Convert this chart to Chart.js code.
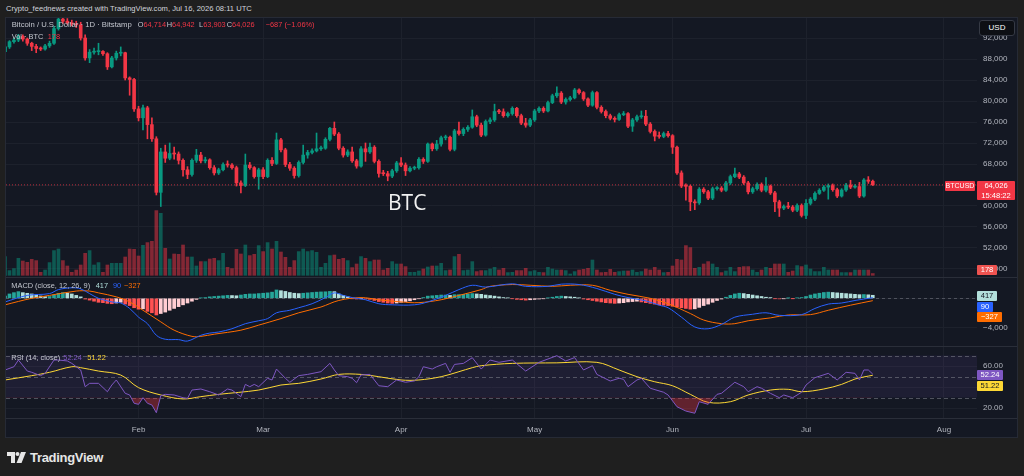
<!DOCTYPE html>
<html>
<head>
<meta charset="utf-8">
<title>BTCUSD 1D</title>
<script src="https://cdn.jsdelivr.net/npm/chart.js@4.4.1/dist/chart.umd.min.js"></script>
<style>
  body { margin:0; width:1024px; height:476px; background:#1f1f1f; position:relative; overflow:hidden;
         font-family:"Liberation Sans", Arial, sans-serif; color:#c3c6ce; }
  .a { position:absolute; white-space:nowrap; z-index:3; }
  #panel { position:absolute; left:5px; top:17px; width:1013px; height:421px; background:#141823;
           border:1px solid #262a35; box-sizing:border-box; }
  canvas { position:absolute; left:6px; z-index:1; }
  .sep { position:absolute; left:6px; width:1011px; height:1px; background:#2a2e39; z-index:2; }
  .leg { font-size:7.4px; line-height:10px; }
  .tag { position:absolute; z-index:3; font-size:7.6px; color:#fff; text-align:center; line-height:10px; border-radius:1px; }
  .red { color:#f23645; }
</style>
</head>
<body>
<div class="a" style="left:6px;top:4px;font-size:7.6px;color:#d1d4dc;">Crypto_feednews created with TradingView.com, Jul 16, 2026 08:11 UTC</div>
<div id="panel"></div>

<canvas id="main" width="1011" height="259" style="top:18px"></canvas>
<canvas id="macd" width="1011" height="68" style="top:278px"></canvas>
<canvas id="rsi" width="1011" height="90" style="top:347px"></canvas>
<div class="sep" style="top:277px"></div>
<div class="sep" style="top:346px"></div>
<div class="sep" style="top:418px"></div>

<!-- legends -->
<div class="a leg" style="left:11.7px;top:20px;font-size:7.7px;">Bitcoin / U.S. Dollar · 1D · Bitstamp</div>
<div class="a leg" style="left:137.7px;top:20px;">O<span class="red">64,714</span></div>
<div class="a leg" style="left:166.7px;top:20px;">H<span class="red">64,942</span></div>
<div class="a leg" style="left:199px;top:20px;">L<span class="red">63,903</span></div>
<div class="a leg" style="left:226.7px;top:20px;">C<span class="red">64,026</span></div>
<div class="a leg red" style="left:265.7px;top:20px;">−687 (−1.06%)</div>
<div class="a leg" style="left:11.7px;top:32px;">Vol · BTC</div>
<div class="a leg red" style="left:47.7px;top:32px;">178</div>

<div class="a leg" style="left:11.3px;top:280.5px;">MACD (close, 12, 26, 9)</div>
<div class="a leg" style="left:95.7px;top:280.5px;color:#b2dfdb;">417</div>
<div class="a leg" style="left:113px;top:280.5px;color:#2962ff;">90</div>
<div class="a leg" style="left:124px;top:280.5px;color:#ff6d00;">−327</div>

<div class="a leg" style="left:11.3px;top:352.5px;">RSI (14, close)</div>
<div class="a leg" style="left:63.3px;top:352.5px;color:#7e57c2;">52.24</div>
<div class="a leg" style="left:87.3px;top:352.5px;color:#fdd835;">51.22</div>

<div class="a" style="left:388px;top:188px;font:21px 'Open Sans', sans-serif;color:#f2f2f2;">BTC</div>

<!-- price scale tags -->
<div class="tag" style="left:979px;top:20px;width:34px;height:14px;line-height:14px;background:#0d0f14;border:1px solid #363a45;border-radius:3px;font-size:8px;">USD</div>
<div class="tag" style="left:945px;top:181px;width:30px;height:10px;background:#f23645;font-size:7px;">BTCUSD</div>
<div class="tag" style="left:977px;top:181px;width:38px;height:19px;background:#f23645;line-height:9.5px;">64,026<br>15:48:22</div>
<div class="tag" style="left:977px;top:265px;width:20px;height:10px;background:#ef5350;">178</div>
<div class="tag" style="left:977px;top:291px;width:20px;height:10px;background:#b2dfdb;color:#131722;">417</div>
<div class="tag" style="left:977px;top:302px;width:16px;height:10px;background:#2962ff;">90</div>
<div class="tag" style="left:977px;top:312px;width:25px;height:10px;background:#ff6d00;">−327</div>
<div class="tag" style="left:977px;top:370px;width:26px;height:10px;background:#7e57c2;">52.24</div>
<div class="tag" style="left:977px;top:381px;width:26px;height:10px;background:#fdd835;color:#131722;">51.22</div>

<!-- footer logo -->
<svg class="a" style="left:7px;top:452px;" width="19" height="11" viewBox="0 0 19 11">
  <path d="M0 0H8V11H4V4H0Z" fill="#e6e6e6"/>
  <circle cx="10.5" cy="2" r="2" fill="#e6e6e6"/>
  <path d="M14 0H19L14.5 11H9.5Z" fill="#e6e6e6"/>
</svg>
<div class="a" style="left:30px;top:450px;font-size:13px;font-weight:bold;color:#e6e6e6;letter-spacing:-0.3px;">TradingView</div>

<script>
// ---- data: daily candles Jan 2 .. Jul 16 2026 (day index: Jan 1 = 0) ----
const firstDay = 1;
const opens = [
  89400,90300,91300,91600,92300,91800,91000,90400,90000,89900,
  90500,91000,93800,95600,95200,94900,94700,94500,92000,88200,
  89300,89400,89450,89000,86500,88200,89100,89200,84400,84100,
  78500,76800,78700,75500,72800,62600,70300,69100,70000,69900,
  68700,66900,66000,68700,69700,68600,68800,67300,66300,66900,
  67900,67800,67300,64400,63900,67800,67300,65600,66900,65600,
  68700,68100,72600,70700,67900,67200,65800,68300,69700,70200,
  70500,70900,71000,72700,74800,73700,71000,69700,70300,68600,
  67600,70900,70300,71200,68500,66200,66150,65700,66700,68200,
  67800,66700,67200,67300,68900,68500,71800,70900,71800,73000,
  73100,70800,74300,73800,74600,75000,77000,75400,73500,76100,
  76400,78000,77950,77200,77600,78600,77200,75800,75400,76400,
  78100,78600,78100,79700,81000,81500,79800,80300,80600,82100,
  81600,80400,79200,81600,78800,78000,77200,76700,76500,77400,
  77600,75200,76400,77000,77100,75600,74200,73300,73250,73800,
  73400,71200,66300,63800,63750,60800,60600,63200,62700,61500,
  63300,63400,63000,64400,65600,66100,65500,64400,62700,63300,
  64100,63000,63800,62500,60800,59600,59900,59800,59200,60100,
  58200,60500,61300,62400,63000,63600,63900,63100,61900,63050,
  64000,63600,63700,61900,64950,64714
];
const highs = [
  90600,91500,92000,92700,92600,92000,91200,90800,90300,90800,
  91400,94200,96000,96000,95700,95400,95200,95000,92600,89800,
  90100,91000,89600,89200,88500,89500,90300,89300,84600,84300,
  79000,79200,79000,76800,73200,71000,71600,72000,71200,70300,
  69000,67500,69000,70800,70200,69300,69000,67700,67200,68200,
  68600,68100,67600,64800,69900,68300,67500,67200,67300,69000,
  69200,73900,72900,71000,68300,67500,68600,71600,70600,70900,
  73900,71400,73000,75000,76000,74000,71300,70700,71200,68900,
  71300,72000,72000,71500,68800,66800,66600,67000,68500,69200,
  68200,67500,67600,69200,69200,72000,72000,72500,73300,73500,
  73300,74600,76000,74900,75300,78300,77300,75800,76400,76800,
  79400,78400,78500,77900,78900,78800,77500,76700,76700,78400,
  78900,78900,80000,81300,82700,81800,80600,80900,82400,82300,
  81800,80600,81900,81800,79100,78300,77500,77000,77700,78000,
  77800,76700,77300,78100,78200,75900,74500,74100,74100,74200,
  73600,71400,66700,64200,64000,61200,63500,63500,63000,63600,
  63700,63700,64700,65900,67200,66400,65800,64700,63600,64400,
  64400,65400,64000,62800,61100,60200,60700,60100,60400,60400,
  61200,61600,62700,63300,63900,64200,64200,63400,63300,64300,
  64900,64100,64500,65200,65600,64942
];
const lows = [
  89200,90000,91000,91300,91400,90600,89600,89200,89600,89700,
  90200,90800,93500,94800,94600,94300,94000,91600,87800,87300,
  88900,88800,88700,86000,86300,87800,88600,84000,81100,78000,
  76200,74500,72800,72300,62100,59900,68300,68800,68900,68000,
  65700,65200,65700,68300,68200,68200,67000,65900,66000,66700,
  67400,67000,63800,62500,63700,67000,65300,63200,65200,65400,
  67700,67900,70300,67500,66800,65300,65500,68000,69100,69900,
  70300,70600,70800,72400,73400,70700,69300,69400,68300,67200,
  67400,68500,70000,68200,65500,65800,64800,65400,66400,67500,
  65800,66500,66900,67000,68100,68300,70500,70600,71400,72600,
  70500,70500,73500,73400,74200,74800,75100,73200,73300,75700,
  76100,77600,76900,76900,77300,76900,75500,75000,75100,76100,
  77800,77800,77900,79500,80700,79500,79400,80000,80400,81300,
  80100,78900,79000,78500,77700,76800,76400,76000,76300,77200,
  74900,74200,76100,76700,75300,73900,72400,72900,73000,73100,
  70000,66000,63500,61100,59100,59300,60300,62400,61200,61200,
  63000,62700,62800,64100,65400,65200,64100,62300,62400,63000,
  62700,62700,62200,58900,58000,59300,59500,58900,58900,57900,
  57600,60200,61000,62200,62800,61300,62800,61600,61700,62800,
  63300,63400,61600,61700,64300,63903
];
const closes = [
  90300,91300,91600,92300,91800,91000,90400,90000,89900,90500,
  91000,93800,95600,95200,94900,94700,94500,92000,88200,89300,
  89400,89450,89000,86500,88200,89100,89200,84400,84100,78500,
  76800,78700,75500,72800,62600,70300,69100,70000,69900,68700,
  66900,66000,68700,69700,68600,68800,67300,66300,66900,67900,
  67800,67300,64400,63900,67800,67300,65600,66900,65600,68700,
  68100,72600,70700,67900,67200,65800,68300,69700,70200,70500,
  70900,71000,72700,74800,73700,71000,69700,70300,68600,67600,
  70900,70300,71200,68500,66200,66150,65700,66700,68200,67800,
  66700,67200,67300,68900,68500,71800,70900,71800,73000,73100,
  70800,74300,73800,74600,75000,77000,75400,73500,76100,76400,
  78000,77950,77200,77600,78600,77200,75800,75400,76400,78100,
  78600,78100,79700,81000,81500,79800,80300,80600,82100,81600,
  80400,79200,81600,78800,78000,77200,76700,76500,77400,77600,
  75200,76400,77000,77100,75600,74200,73300,73250,73800,73400,
  71200,66300,63800,63750,60800,60600,63200,62700,61500,63300,
  63400,63000,64400,65600,66100,65500,64400,62700,63300,64100,
  63000,63800,62500,60800,59600,59900,59800,59200,60100,58200,
  60500,61300,62400,63000,63600,63900,63100,61900,63050,64000,
  63600,63700,61900,64950,64714,64026
];
const volumes = [
  1870,470,670,1700,1430,1300,1600,1470,300,530,
  1270,2470,2630,1470,930,300,530,1030,2200,2470,
  1030,1270,300,1030,1200,1200,1200,1830,2630,2600,
  1930,3000,3270,3400,6470,6200,2700,1630,2130,2100,
  3030,1830,1830,930,1370,1370,1630,1700,1470,2200,
  800,670,2600,2130,3030,1970,2100,2970,2370,3270,
  2630,3400,2330,1800,800,1470,2370,2630,2370,2470,
  2300,800,1200,1970,2030,1600,1700,1470,770,1130,
  1870,1700,1370,1530,1530,530,700,1370,1130,1130,
  870,300,300,430,630,830,930,930,1200,470,
  530,1870,2100,470,530,1370,370,470,470,630,
  800,530,700,270,300,470,470,700,370,470,
  300,270,800,630,530,530,470,130,370,530,
  600,700,1530,530,270,300,600,300,370,430,
  430,530,300,370,630,530,800,530,270,300,
  930,1600,1530,2970,2770,700,800,1130,1370,1130,
  800,270,430,800,370,800,870,870,530,300,
  530,800,700,1130,1130,1130,300,430,970,870,
  1030,630,370,370,800,530,530,530,270,270,
  270,530,530,530,530,178
];
const macdHist = [
  320,600,780,920,780,690,600,460,320,230,
  250,460,690,780,720,600,400,200,-100,-250,
  -400,-550,-600,-700,-750,-650,-550,-800,-1000,-1300,
  -1500,-1450,-1800,-2000,-2300,-2100,-1900,-1650,-1400,-1150,
  -900,-650,-400,-150,50,100,200,250,300,350,
  400,380,350,450,550,600,600,650,700,750,
  850,1150,1050,950,800,700,650,700,750,800,
  850,880,900,950,920,600,400,200,-50,-100,
  -50,-100,-150,-300,-450,-550,-650,-700,-650,-550,
  -450,-350,-200,-50,100,300,350,400,450,450,
  400,500,500,550,600,650,600,550,450,380,
  300,200,100,50,-50,-150,-200,-250,-200,-150,
  -100,-50,50,150,250,300,250,200,150,50,
  -100,-200,-300,-400,-500,-600,-650,-700,-650,-600,
  -500,-450,-400,-500,-600,-700,-800,-900,-950,-1000,
  -1100,-1200,-1300,-1400,-1500,-1450,-1250,-1000,-800,-550,
  -300,-100,150,400,600,700,650,550,450,350,
  250,150,100,-50,-80,-50,30,-30,50,100,
  250,450,600,700,800,850,800,750,700,650,
  600,550,500,520,480,417
];
// indicator lines read at sampled days
const macdDays = [1,6,11,13,16,18,20,22,25,27,29,31,33,35,37,40,42,45,47,49,52,55,58,60,62,65,67,70,73,75,77,79,82,85,88,93,96,100,103,106,109,115,118,123,126,130,134,138,141,145,148,150,153,156,159,162,165,169,172,175,180,183,186,189,192,196];
const macdVals = [-500,400,650,1200,1450,1300,650,0,-500,-650,-1400,-2600,-3500,-5100,-5650,-5700,-5900,-5100,-4800,-4650,-4200,-3500,-3100,-2800,-2000,-1650,-1300,-750,100,750,400,100,-200,-750,-900,-900,-500,400,1200,1800,1550,2000,1650,1650,1950,1900,1350,550,100,-350,-950,-1300,-2600,-3950,-4200,-3600,-2600,-2200,-2000,-2350,-2250,-1400,-800,-650,-300,90];
const signalDays = [1,7,11,17,20,22,26,29,32,36,39,43,45,48,54,58,63,67,72,76,81,85,90,94,99,103,108,110,115,119,124,128,133,137,141,146,150,155,158,162,165,168,173,177,182,186,191,196];
const signalVals = [-900,0,400,1000,1000,750,200,-500,-1650,-3250,-4400,-5250,-5250,-4950,-4400,-3700,-2800,-2000,-1200,-300,100,-200,-500,-600,-200,400,1200,1650,1900,1800,1650,1800,1800,1100,550,0,-750,-2100,-3000,-3500,-3500,-3100,-2700,-2300,-2250,-1650,-950,-327];
const rsiDays = [1,3,4,6,7,9,10,12,13,15,16,18,19,20,22,24,25,26,28,29,30,31,32,33,34,35,36,37,39,41,42,43,45,47,49,51,52,54,55,56,57,58,60,61,62,64,65,67,69,72,74,75,76,78,79,80,81,83,85,87,89,91,93,94,95,97,98,100,101,102,104,106,108,110,112,115,118,121,125,127,129,131,133,134,137,139,140,141,143,144,146,149,150,152,154,156,157,159,161,162,165,167,168,170,171,173,175,176,178,180,181,183,186,188,190,192,193,194,195,196];
const rsiVals = [56.2,59.3,65.7,55.2,54,50.8,53,65.7,65.7,64.8,62.5,56.2,40.3,43.5,43.5,35.5,41.9,46.7,34,32.4,24.5,23.5,29.8,24.5,22.9,15.5,31.7,33,32.4,29.8,29.2,37.1,38.1,35.5,32.4,38.1,37.1,30.8,42.5,40.3,42.5,40.3,48.3,46.7,57.1,48.3,44.5,50.8,52,54.6,62.5,56.2,50.8,49.8,48.3,44.1,51.5,52,41.2,40.3,46.7,44.5,45.8,49.8,59.3,57.1,59.3,62.5,54,61.5,62.5,67.9,57.1,65.7,63.5,65.7,55.2,63.5,69.8,64.8,68,56.2,60.3,52,45.7,48.3,47.3,40.3,46.7,48.3,38.8,35,32.4,21.2,17.1,15,26,23.5,33,34,44.5,40.3,35.5,40.3,38.8,34,29.8,32.4,29.8,35,41.9,48.9,53,46.7,54,53,46.7,56.2,56.2,52.24];
const rsiMaDays = [1,7,11,16,18,22,27,31,36,41,45,49,58,63,67,72,76,81,85,90,94,99,103,106,108,115,125,134,139,143,147,151,155,159,164,168,173,177,180,185,189,192,196];
const rsiMaVals = [46.7,50.8,54,59.3,58.4,55.2,51.4,39.4,32.4,28.6,30.8,33,37.1,41.9,43.5,47.6,52,52,49.8,46.7,46.7,49.8,54.6,58.4,60.3,62.5,63,63.5,56.2,49.8,45,41.2,33,25.4,26,32.4,37.1,37.8,35.5,38.1,42.5,47.6,51.22];
const rsiLevels = [70, 50, 30];

const monthDays = [31, 59, 90, 120, 151, 181, 212];
const monthNames = ['Feb', 'Mar', 'Apr', 'May', 'Jun', 'Jul', 'Aug'];
const priceTicks = [48000, 52000, 56000, 60000, 64000, 68000, 72000, 76000, 80000, 84000, 88000, 92000];
const macdTicks = [0, -4000];
const rsiTicks = [20, 40, 60];

// ---- styling ----
const FONT = 'Liberation Sans';
const GRID = '#1d212c';
const UP = '#089981', DOWN = '#f23645';
const X_MIN = 1.2135, X_MAX = 219.42;

const days = closes.map((_, i) => firstDay + i);
const isUp = closes.map((c, i) => c >= opens[i]);
const candleCol = isUp.map(u => u ? UP : DOWN);
const volCol = isUp.map(u => u ? 'rgba(8,153,129,0.5)' : 'rgba(242,54,69,0.5)');
const histCol = macdHist.map((h, i) => {
  const p = i ? macdHist[i - 1] : h;
  if (h >= 0) return h >= p ? '#26a69a' : '#b2dfdb';
  return h < p ? '#ff5252' : '#ffcdd2';
});
const pts = (xs, ys) => xs.map((x, i) => ({ x: x, y: ys[i] }));

function xAxis(showLabels) {
  return {
    type: 'linear', min: X_MIN, max: X_MAX, offset: false,
    grid: { color: GRID, offset: false, drawTicks: false },
    border: { display: false },
    afterBuildTicks: s => { s.ticks = monthDays.map(v => ({ value: v })); },
    ticks: {
      display: showLabels, color: '#b2b5be', font: { family: FONT, size: 8 }, padding: 7,
      maxRotation: 0, autoSkip: false,
      callback: v => monthNames[monthDays.indexOf(v)]
    },
    afterFit: s => { s.height = showLabels ? 19 : 0; s.paddingLeft = 0; s.paddingRight = 0; }
  };
}
function yAxis(min, max, tickVals, fmt) {
  return {
    position: 'right', min: min, max: max,
    grid: { color: GRID, drawTicks: false }, border: { display: false },
    afterBuildTicks: s => { s.ticks = tickVals.map(v => ({ value: v })); },
    ticks: { color: '#b2b5be', font: { family: FONT, size: 8 }, padding: 6, callback: fmt },
    afterFit: s => { s.width = 40; s.paddingTop = 0; s.paddingBottom = 0; }
  };
}
const num = v => (v < 0 ? '\u2212' : '') + Math.abs(v).toLocaleString('en-US');

const bands = {
  id: 'bands',
  beforeDatasetsDraw(chart, args, o) {
    const { ctx, chartArea: a } = chart, y = chart.scales.y;
    ctx.save();
    if (o.fill) {
      const t = y.getPixelForValue(o.fillFrom), b = y.getPixelForValue(o.fillTo);
      ctx.fillStyle = o.fill;
      ctx.fillRect(a.left, t, a.right - a.left, b - t);
    }
    ctx.strokeStyle = o.color; ctx.lineWidth = 1; ctx.setLineDash(o.dash);
    o.lines.forEach(v => {
      const py = Math.round(y.getPixelForValue(v)) + 0.5;
      ctx.beginPath(); ctx.moveTo(a.left, py); ctx.lineTo(a.right, py); ctx.stroke();
    });
    ctx.restore();
  }
};
const base = { responsive: false, animation: false, devicePixelRatio: 1, layout: { padding: 0 } };
const noPlug = { legend: { display: false }, tooltip: { enabled: false } };

// main pane: candles + volume
const last = closes[closes.length - 1];
new Chart(document.getElementById('main'), {
  type: 'bar',
  data: {
    datasets: [
      { type: 'line', data: [{ x: X_MIN, y: last }, { x: X_MAX, y: last }], borderColor: 'rgba(242,54,69,0.75)',
        borderWidth: 1, borderDash: [1, 2], pointRadius: 0, yAxisID: 'y', order: 0 },
      { data: days.map((d, i) => ({ x: d, y: [opens[i], closes[i]] })), backgroundColor: candleCol,
        barThickness: 3, minBarLength: 1, grouped: false, yAxisID: 'y', order: 1 },
      { data: days.map((d, i) => ({ x: d, y: [lows[i], highs[i]] })), backgroundColor: candleCol,
        barThickness: 1, grouped: false, yAxisID: 'y', order: 2 },
      { data: days.map((d, i) => ({ x: d, y: volumes[i] })), backgroundColor: volCol,
        barThickness: 3, grouped: false, yAxisID: 'v', order: 3 }
    ]
  },
  options: Object.assign({}, base, {
    plugins: noPlug,
    scales: {
      x: xAxis(false),
      y: yAxis(46476, 95810, priceTicks, num),
      v: { display: false, min: -170, max: 25730 }
    }
  })
});

// MACD pane
new Chart(document.getElementById('macd'), {
  type: 'bar',
  data: {
    datasets: [
      { type: 'line', data: pts(macdDays, macdVals), borderColor: '#2962ff', borderWidth: 1,
        pointRadius: 0, tension: 0.35, order: 0 },
      { type: 'line', data: pts(signalDays, signalVals), borderColor: '#ff6d00', borderWidth: 1,
        pointRadius: 0, tension: 0.35, order: 1 },
      { data: days.map((d, i) => ({ x: d, y: macdHist[i] })), backgroundColor: histCol,
        barThickness: 3, grouped: false, order: 2 }
    ]
  },
  options: Object.assign({}, base, {
    plugins: Object.assign({ bands: { lines: [0], color: 'rgba(120,123,134,0.55)', dash: [3, 3] } }, noPlug),
    scales: { x: xAxis(false), y: yAxis(-6579, 2800, macdTicks, num) }
  }),
  plugins: [bands]
});

// RSI pane
new Chart(document.getElementById('rsi'), {
  type: 'line',
  data: {
    datasets: [
      { data: pts(rsiDays, rsiVals), borderColor: '#7e57c2', borderWidth: 1, pointRadius: 0,
        fill: { target: { value: rsiLevels[2] }, above: 'rgba(0,0,0,0)', below: 'rgba(242,54,69,0.35)' } },
      { data: pts(rsiMaDays, rsiMaVals), borderColor: '#fdd835', borderWidth: 1, pointRadius: 0,
        tension: 0.35, fill: false }
    ]
  },
  options: Object.assign({}, base, {
    plugins: Object.assign({ bands: { fill: 'rgba(126,87,194,0.1)', fillFrom: rsiLevels[0], fillTo: rsiLevels[2],
      lines: rsiLevels, color: 'rgba(120,123,134,0.6)', dash: [4, 3] } }, noPlug),
    scales: { x: xAxis(true), y: yAxis(10.48, 78.1, rsiTicks, v => v.toFixed(2)) }
  }),
  plugins: [bands]
});
</script>
</body>
</html>
